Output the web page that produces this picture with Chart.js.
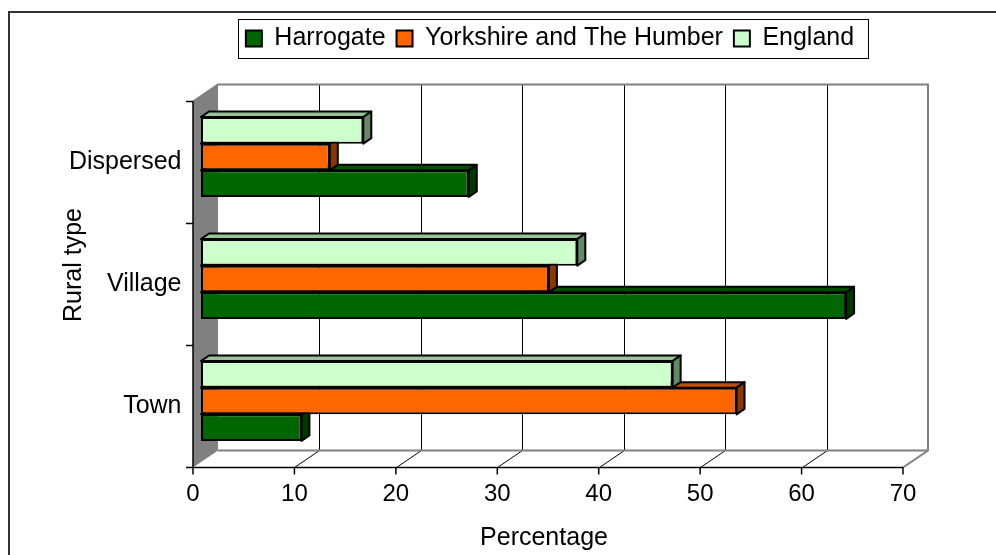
<!DOCTYPE html>
<html>
<head>
<meta charset="utf-8">
<script src="https://cdn.jsdelivr.net/npm/chart.js@4.4.1/dist/chart.umd.min.js"></script>
<style>
  html, body { margin: 0; padding: 0; background: #fff; }
  #wrap { width: 996px; height: 555px; position: relative; }
</style>
</head>
<body>
<div id="wrap"><canvas id="chart"></canvas></div>
<script>
// values, categories top to bottom
const categories = ["Dispersed", "Village", "Town"];
const seriesNames = ["Harrogate", "Yorkshire and The Humber", "England"];
const harrogate = [26.4, 63.6, 9.9];
const yorkshire = [12.7, 34.3, 52.8];
const england = [16.0, 37.1, 46.5];
const xTicks = [0, 10, 20, 30, 40, 50, 60, 70];
const xTitle = "Percentage";
const yTitle = "Rural type";

// oblique 3D offsets (pixels) relative to the plane the bars stand in
const FRONT = { dx: -8, dy: 5.5 };
const BACK = { dx: 17, dy: -11.5 };
const BAR = { dx: 8, dy: -5.5 };
const FONT = "'Liberation Sans', Arial, sans-serif";

Chart.defaults.font.family = FONT;
Chart.defaults.color = "#000";

const line = (ctx, x1, y1, x2, y2) => {
  ctx.beginPath();
  ctx.moveTo(x1, y1);
  ctx.lineTo(x2, y2);
  ctx.stroke();
};

const poly = (ctx, pts, fill, stroke, width) => {
  ctx.beginPath();
  ctx.moveTo(pts[0][0], pts[0][1]);
  pts.slice(1).forEach((p) => ctx.lineTo(p[0], p[1]));
  ctx.closePath();
  if (fill) {
    ctx.fillStyle = fill;
    ctx.fill();
  }
  if (stroke) {
    ctx.strokeStyle = stroke;
    ctx.lineWidth = width;
    ctx.stroke();
  }
};

// walls, floor, gridlines and the front axes
const wallsPlugin = {
  id: "walls",
  beforeDraw(chart) {
    const ctx = chart.ctx;
    ctx.save();
    ctx.fillStyle = "#fff";
    ctx.fillRect(0, 0, chart.width, chart.height);
    ctx.restore();
  },
  beforeDatasetsDraw(chart) {
    const ctx = chart.ctx;
    const xs = chart.scales.x;
    const ys = chart.scales.y;
    const first = xs.getPixelForValue(xTicks[0]);
    const last = xs.getPixelForValue(xTicks[xTicks.length - 1]);
    const top = ys.top;
    const bot = ys.bottom;
    ctx.save();

    // side wall
    poly(ctx, [
      [first + FRONT.dx, top + FRONT.dy],
      [first + BACK.dx, top + BACK.dy],
      [first + BACK.dx, bot + BACK.dy],
      [first + FRONT.dx, bot + FRONT.dy],
    ], "#808080");

    // gridlines on the back wall and floor
    ctx.strokeStyle = "#000";
    ctx.lineWidth = 1;
    xTicks.slice(1, -1).forEach((v) => {
      const px = Math.round(xs.getPixelForValue(v));
      line(ctx, px + BACK.dx + 0.5, top + BACK.dy, px + BACK.dx + 0.5, bot + BACK.dy);
      line(ctx, px + FRONT.dx + 0.5, bot + FRONT.dy, px + BACK.dx + 0.5, bot + BACK.dy);
    });

    // wall and floor edges
    ctx.strokeStyle = "#808080";
    ctx.lineWidth = 2;
    ctx.beginPath();
    ctx.moveTo(first + FRONT.dx, top + FRONT.dy);
    ctx.lineTo(first + BACK.dx, top + BACK.dy);
    ctx.lineTo(last + BACK.dx, top + BACK.dy);
    ctx.lineTo(last + BACK.dx, bot + BACK.dy);
    ctx.lineTo(last + FRONT.dx, bot + FRONT.dy);
    ctx.stroke();
    line(ctx, first + BACK.dx, bot + BACK.dy, last + BACK.dx, bot + BACK.dy);

    // front axes
    ctx.strokeStyle = "#000";
    ctx.lineWidth = 1.5;
    const ax = first + FRONT.dx;
    const ay = bot + FRONT.dy;
    line(ctx, ax, top + FRONT.dy, ax, ay);
    line(ctx, ax, ay, last + FRONT.dx, ay);
    xTicks.forEach((v) => {
      const px = xs.getPixelForValue(v) + FRONT.dx;
      line(ctx, px, ay, px, ay + 7);
    });
    const band = (bot - top) / categories.length;
    for (let i = 0; i <= categories.length; i++) {
      const py = top + FRONT.dy + i * band;
      line(ctx, ax - 7, py, ax, py);
    }
    ctx.restore();
  },
};

// top and side faces of each bar, drawn just before the bar's front face
const barFacesPlugin = {
  id: "barFaces",
  beforeDatasetDraw(chart, args) {
    const ds = chart.data.datasets[args.index];
    const ctx = chart.ctx;
    ctx.save();
    ctx.lineJoin = "round";
    args.meta.data.forEach((bar) => {
      const { x, y, base, height } = bar.getProps(["x", "y", "base", "height"], true);
      const t = y - height / 2;
      const b = y + height / 2;
      poly(ctx, [[base, t], [base + BAR.dx, t + BAR.dy], [x + BAR.dx, t + BAR.dy], [x, t]], ds.topColor, "#000", 2);
      poly(ctx, [[x, t], [x + BAR.dx, t + BAR.dy], [x + BAR.dx, b + BAR.dy], [x, b]], ds.sideColor, "#000", 2);
    });
    ctx.restore();
  },
};

// legend frame, axis titles and the outer frame
const decorPlugin = {
  id: "decor",
  afterLayout(chart) {
    // keep the legend near the top edge, the space below it belongs to the plot
    chart.legend.top -= 35;
    chart.legend.bottom -= 35;
    chart.legend.left -= 6;
    chart.legend.right -= 6;
  },
  afterDraw(chart) {
    const ctx = chart.ctx;
    const xs = chart.scales.x;
    const ys = chart.scales.y;
    ctx.save();

    const boxes = chart.legend.legendHitBoxes;
    if (boxes && boxes.length) {
      const l = boxes[0].left - 8;
      const r = boxes[boxes.length - 1].left + boxes[boxes.length - 1].width + 14;
      ctx.strokeStyle = "#000";
      ctx.lineWidth = 1;
      ctx.strokeRect(Math.round(l) + 0.5, 19.5, Math.round(r - l), 39);
    }

    ctx.fillStyle = "#000";
    ctx.font = "25px " + FONT;
    ctx.textAlign = "center";
    ctx.textBaseline = "alphabetic";
    const midX = (xs.getPixelForValue(xTicks[0]) + xs.getPixelForValue(xTicks[xTicks.length - 1])) / 2 + FRONT.dx;
    ctx.fillText(xTitle, midX - 4, 545);

    ctx.translate(81, (ys.top + ys.bottom) / 2 - 14);
    ctx.rotate(-Math.PI / 2);
    ctx.fillText(yTitle, 0, 0);
    ctx.restore();

    ctx.save();
    ctx.strokeStyle = "#333";
    ctx.lineWidth = 2;
    ctx.strokeRect(9, 12, 1100, 700);
    ctx.restore();
  },
};

new Chart(document.getElementById("chart"), {
  type: "bar",
  data: {
    labels: categories,
    datasets: [
      {
        label: seriesNames[2],
        data: england,
        backgroundColor: "#CCFFCC",
        topColor: "#99C299",
        sideColor: "#668866",
      },
      {
        label: seriesNames[1],
        data: yorkshire,
        backgroundColor: "#FF6600",
        topColor: "#C44E00",
        sideColor: "#8A3700",
      },
      {
        label: seriesNames[0],
        data: harrogate,
        backgroundColor: "#006600",
        topColor: "#005000",
        sideColor: "#003800",
      },
    ],
  },
  options: {
    indexAxis: "y",
    responsive: true,
    maintainAspectRatio: false,
    animation: false,
    devicePixelRatio: 1,
    layout: { padding: { top: 50, right: 85, bottom: 0, left: 0 } },
    datasets: {
      bar: {
        borderColor: "#000",
        borderWidth: 2,
        borderSkipped: false,
        categoryPercentage: 0.656,
        barPercentage: 1,
      },
    },
    scales: {
      x: {
        type: "linear",
        min: xTicks[0],
        max: xTicks[xTicks.length - 1],
        ticks: { stepSize: 10, labelOffset: FRONT.dx, padding: 18, font: { size: 24 } },
        grid: { display: false, drawTicks: false },
        border: { display: false },
        afterFit: (s) => { s.height = 93; },
      },
      y: {
        ticks: { labelOffset: FRONT.dy, padding: 19.5, font: { size: 25 } },
        grid: { display: false, drawTicks: false },
        border: { display: false },
        afterFit: (s) => { s.width = 201; },
      },
    },
    plugins: {
      legend: {
        position: "top",
        fullSize: false,
        reverse: true,
        labels: { font: { size: 25 }, boxWidth: 16, boxHeight: 16, padding: 11 },
      },
      tooltip: { enabled: false },
    },
  },
  plugins: [wallsPlugin, barFacesPlugin, decorPlugin],
});
</script>
</body>
</html>
